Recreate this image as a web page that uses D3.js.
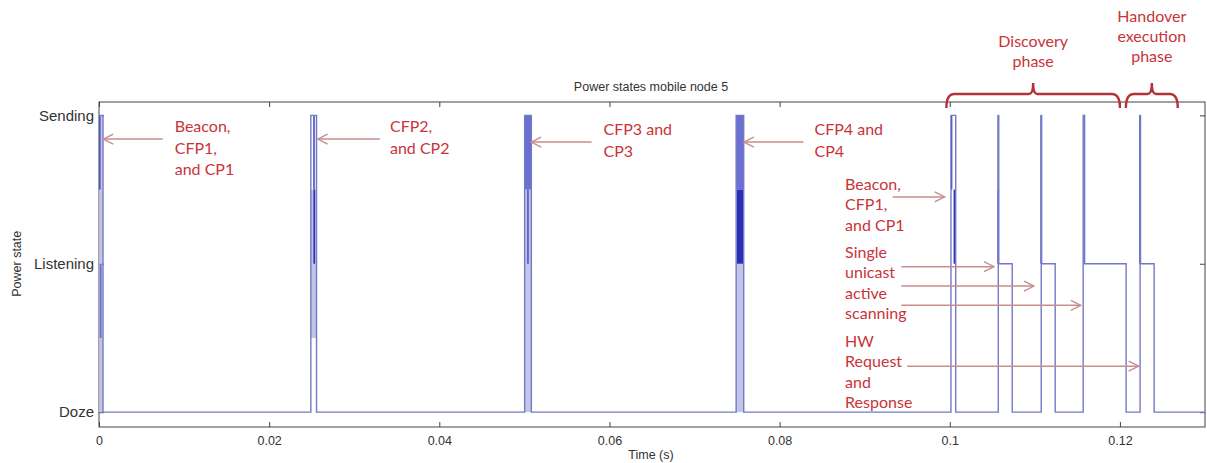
<!DOCTYPE html>
<html>
<head>
<meta charset="utf-8">
<script src="https://cdn.jsdelivr.net/npm/d3@7"></script>
<style>
    body { margin: 0; background: #fff; }
    svg { display: block; }
    .axis text { font-family: "Liberation Sans", Arial, sans-serif; fill: #333; }
    .note { font-family: Lato, "Open Sans", sans-serif; font-size: 16px; fill: #c8343a; }
</style>
</head>
<body>
<div id="chart"></div>
<script>
// ---- data ----
// state levels
let stateNames = ["Doze", "Listening", "Sending"];
let xTicks = [0, 0.02, 0.04, 0.06, 0.08, 0.1, 0.12];

// stairs signal: time (s) and power state (0 doze, 1 listening, 2 sending)
let stepTimes  = [0, 0.00047, 0.0249, 0.02557, 0.05003, 0.05082, 0.07489, 0.07578,
                  0.10014, 0.1007, 0.1057, 0.10575, 0.10734, 0.11075, 0.1108, 0.11239,
                  0.11568, 0.11585, 0.12073, 0.12237, 0.12242, 0.12402, 0.13];
let stepStates = [2, 0, 2, 0, 2, 0, 2, 0,
                  2, 0, 2, 1, 0, 2, 1, 0,
                  2, 1, 0, 2, 1, 0, 0];

// dense bursts inside the pulses: [t start, t end, state from, state to, tone]
let bursts = [
    [0.00002, 0.00045, 0, 2, "light"],
    [0.00003, 0.00013, 1.5, 2, "dark"],
    [0.00008, 0.00030, 0.5, 1, "mid"],
    [0.0249, 0.02557, 0.5, 1.5, "light"],
    [0.02515, 0.0254, 1.5, 2, "mid"],
    [0.0252, 0.0254, 1, 1.5, "dark"],
    [0.05003, 0.05082, 0, 1.5, "light"],
    [0.05003, 0.05082, 1.5, 2, "mid"],
    [0.05035, 0.05047, 1, 1.5, "dark"],
    [0.07489, 0.07578, 0, 1, "light"],
    [0.07489, 0.07578, 1.5, 2, "mid"],
    [0.07495, 0.07570, 1, 1.5, "dark"],
    [0.10014, 0.10030, 1.5, 2, "dark"],
    [0.10045, 0.10062, 1, 1.5, "dark"],
    [0.1056, 0.1058, 1, 1.5, "dark"],
    [0.1056, 0.1058, 1.5, 2, "mid"],
    [0.11066, 0.11084, 1, 2, "dark"],
    [0.12228, 0.12246, 1, 2, "dark"]
];

// annotations: text lines, text anchor (t, state) of first line, arrows [t1, s1, t2, s2]
let noteLines = [
    ["Beacon,", "CFP1,", "and CP1"],
    ["CFP2,", "and CP2"],
    ["CFP3 and", "CP3"],
    ["CFP4 and", "CP4"],
    ["Beacon,", "CFP1,", "and CP1"],
    ["Single", "unicast", "active", "scanning"],
    ["HW", "Request", "and", "Response"]
];
let noteAnchor = [[0.0089, 1.885], [0.0342, 1.885], [0.0593, 1.865], [0.0841, 1.865],
                  [0.0877, 1.50], [0.0877, 1.04], [0.0877, 0.44]];
let arrows = [
    [0.0075, 1.84, 0.0005, 1.84],
    [0.0330, 1.84, 0.0257, 1.84],
    [0.0579, 1.82, 0.0508, 1.82],
    [0.0828, 1.82, 0.0758, 1.82],
    [0.0933, 1.45, 0.0994, 1.45],
    [0.0943, 0.98, 0.1052, 0.98],
    [0.0943, 0.85, 0.1099, 0.85],
    [0.0943, 0.72, 0.1154, 0.72],
    [0.0950, 0.31, 0.1222, 0.31]
];

// phase braces: label lines, t start, t end
let phaseLabels = [["Discovery", "phase"], ["Handover", "execution", "phase"]];
let phaseSpans = [[0.0996, 0.1200], [0.1207, 0.1268]];

// ---- layout ----
let width = 1207, height = 463;
let margin = {top: 102, right: 2, bottom: 36, left: 99};

let svg = d3.select("#chart").append("svg")
    .attr("width", width)
    .attr("height", height);

let x = d3.scaleLinear().domain([0, 0.13]).range([margin.left, width - margin.right]);
let y = d3.scaleLinear().domain([-0.1, 2.09]).range([height - margin.bottom, margin.top]);

let toneColor = {light: "#c3c5e8", mid: "#6a70d2", dark: "#2b2fb8"};

// axes box
svg.append("rect")
    .attr("x", x(0)).attr("y", y(2.09))
    .attr("width", x(0.13) - x(0))
    .attr("height", y(-0.1) - y(2.09))
    .attr("fill", "none")
    .attr("stroke", "#444")
    .attr("stroke-width", 1);

// x axis bottom, ticks inside
let xAxis = svg.append("g")
    .attr("class", "axis")
    .attr("transform", `translate(0, ${y(-0.1)})`)
    .call(d3.axisBottom(x).tickValues(xTicks).tickSizeInner(-5).tickSizeOuter(0).tickPadding(9).tickFormat(d3.format("~g")));
xAxis.select(".domain").remove();
xAxis.selectAll("line").attr("stroke", "#444");
xAxis.selectAll("text").style("font-size", "12.5px");

// top ticks
svg.append("g")
    .attr("transform", `translate(0, ${y(2.09)})`)
    .call(d3.axisTop(x).tickValues(xTicks).tickSizeInner(-5).tickSizeOuter(0).tickFormat(""))
    .call(g => g.select(".domain").remove())
    .selectAll("line").attr("stroke", "#444");

// y axis left
let yAxis = svg.append("g")
    .attr("class", "axis")
    .attr("transform", `translate(${x(0)}, 0)`)
    .call(d3.axisLeft(y).tickValues([0, 1, 2]).tickSizeInner(-5).tickSizeOuter(0).tickPadding(5)
        .tickFormat(d => stateNames[d]));
yAxis.select(".domain").remove();
yAxis.selectAll("line").attr("stroke", "#444");
yAxis.selectAll("text").style("font-size", "15px");

// y ticks right
svg.append("g")
    .attr("transform", `translate(${x(0.13)}, 0)`)
    .call(d3.axisRight(y).tickValues([0, 1, 2]).tickSizeInner(-5).tickSizeOuter(0).tickFormat(""))
    .call(g => g.select(".domain").remove())
    .selectAll("line").attr("stroke", "#444");

// title and axis labels
svg.append("text")
    .attr("x", (x(0) + x(0.13)) / 2 - 1).attr("y", 91)
    .attr("text-anchor", "middle")
    .style("font-family", "Liberation Sans, Arial, sans-serif")
    .style("font-size", "12.5px").style("fill", "#333")
    .text("Power states mobile node 5");

svg.append("text")
    .attr("x", (x(0) + x(0.13)) / 2 - 1).attr("y", 459)
    .attr("text-anchor", "middle")
    .style("font-family", "Liberation Sans, Arial, sans-serif")
    .style("font-size", "12.5px").style("fill", "#333")
    .text("Time (s)");

svg.append("text")
    .attr("transform", `translate(21, ${y(1)}) rotate(-90)`)
    .attr("text-anchor", "middle")
    .style("font-family", "Liberation Sans, Arial, sans-serif")
    .style("font-size", "12.5px").style("fill", "#333")
    .text("Power state");

// bursts of overlapping traces
svg.selectAll(".burst")
    .data(bursts)
    .enter()
    .append("rect")
    .attr("class", "burst")
    .attr("x", d => x(d[0]))
    .attr("width", d => Math.max(1.2, x(d[1]) - x(d[0])))
    .attr("y", d => y(d[3]))
    .attr("height", d => y(d[2]) - y(d[3]))
    .attr("fill", d => toneColor[d[4]]);

// stairs line
let steps = stepTimes.map((t, i) => [t, stepStates[i]]);
let line = d3.line()
    .x(d => x(d[0]))
    .y(d => y(d[1]))
    .curve(d3.curveStepAfter);

svg.append("path")
    .datum(steps)
    .attr("d", line)
    .attr("fill", "none")
    .attr("stroke", "#7479c4")
    .attr("stroke-width", 1.4);

// arrow marker
let defs = svg.append("defs");
defs.append("marker")
    .attr("id", "head")
    .attr("viewBox", "0 0 12 12")
    .attr("refX", 11).attr("refY", 6)
    .attr("markerWidth", 12).attr("markerHeight", 12)
    .attr("markerUnits", "userSpaceOnUse")
    .attr("orient", "auto")
    .append("path")
    .attr("d", "M1,1 L11,6 L1,11")
    .attr("fill", "none")
    .attr("stroke", "#c98d8d")
    .attr("stroke-width", 1.4);

svg.selectAll(".arrow")
    .data(arrows)
    .enter()
    .append("line")
    .attr("class", "arrow")
    .attr("x1", d => x(d[0])).attr("y1", d => y(d[1]))
    .attr("x2", d => x(d[2])).attr("y2", d => y(d[3]))
    .attr("stroke", "#c98d8d")
    .attr("stroke-width", 1.5)
    .attr("marker-end", "url(#head)");

// annotation text
noteLines.forEach((lines, i) => {
    let t = svg.append("text")
        .attr("class", "note")
        .attr("x", x(noteAnchor[i][0]))
        .attr("y", y(noteAnchor[i][1]));
    lines.forEach((s, j) => {
        t.append("tspan")
            .attr("x", x(noteAnchor[i][0]))
            .attr("dy", j === 0 ? 0 : (i < 4 ? 21.5 : 20.5))
            .text(s);
    });
});

// phase braces above the axes
let braceY = 94;
let labelBase = [67, 62];
phaseSpans.forEach((span, i) => {
    let x0 = x(span[0]), x1 = x(span[1]), xm = (x0 + x1) / 2;
    let p = d3.path();
    p.moveTo(x0, braceY + 14);
    p.quadraticCurveTo(x0, braceY, x0 + 8, braceY);
    p.lineTo(xm - 4, braceY);
    p.quadraticCurveTo(xm, braceY, xm, braceY - 11);
    p.quadraticCurveTo(xm, braceY, xm + 4, braceY);
    p.lineTo(x1 - 8, braceY);
    p.quadraticCurveTo(x1, braceY, x1, braceY + 14);
    svg.append("path")
        .attr("d", p.toString())
        .attr("fill", "none")
        .attr("stroke", "#b3333a")
        .attr("stroke-width", 2.4);

    let lines = phaseLabels[i];
    let t = svg.append("text")
        .attr("class", "note")
        .attr("text-anchor", "middle")
        .attr("y", labelBase[i] - (lines.length - 1) * 20);
    lines.forEach((s, j) => {
        t.append("tspan")
            .attr("x", xm)
            .attr("dy", j === 0 ? 0 : 20)
            .text(s);
    });
});
</script>
</body>
</html>
